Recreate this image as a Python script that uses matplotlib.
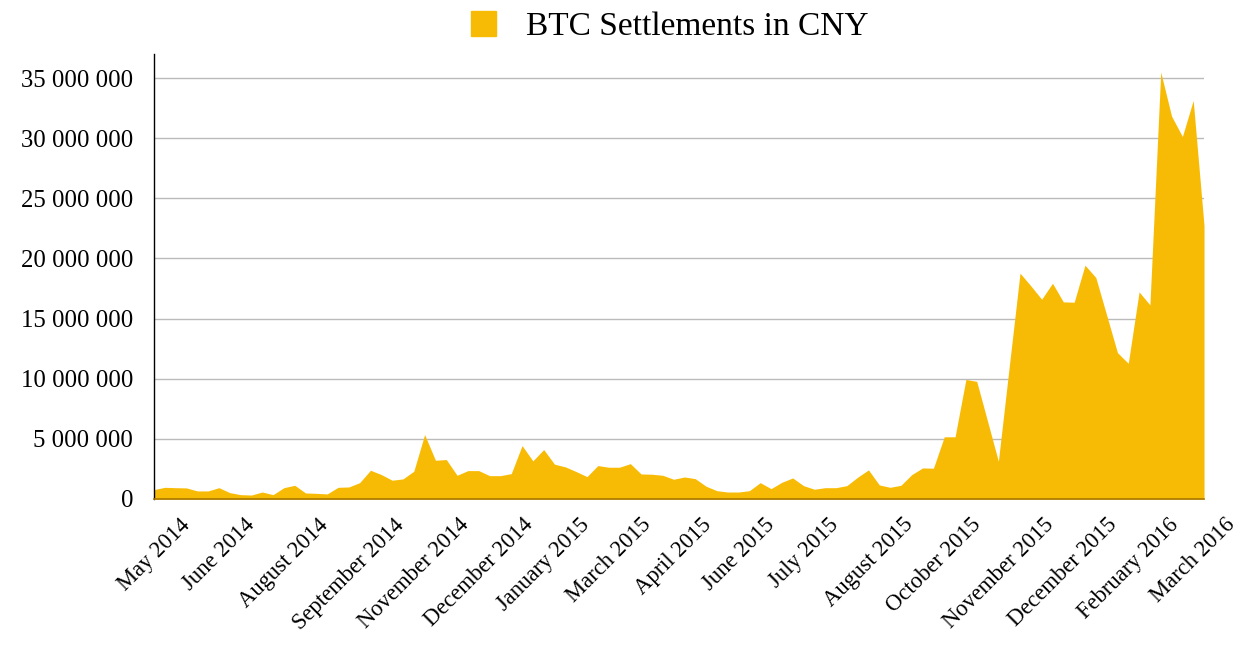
import matplotlib
matplotlib.use('Agg')
import matplotlib.pyplot as plt
from matplotlib.patches import Patch
from matplotlib.ticker import FuncFormatter

plt.rcParams['font.family'] = ['Liberation Serif', 'DejaVu Serif']

# weekly settlements, millions of CNY
settlements_m = [
    0.78, 0.97, 0.94, 0.92, 0.67, 0.67, 0.94, 0.53, 0.36, 0.33,
    0.58, 0.36, 0.94, 1.14, 0.50, 0.47, 0.42, 0.97, 1.00, 1.36,
    2.39, 2.03, 1.56, 1.67, 2.31, 5.36, 3.22, 3.28,
    1.97, 2.36, 2.36, 1.94, 1.94, 2.11, 4.44, 3.17, 4.11, 2.89,
    2.67, 2.28, 1.86, 2.78, 2.64, 2.64, 2.94, 2.08, 2.06, 1.97,
    1.64, 1.83, 1.69, 1.06, 0.69, 0.58, 0.58,
    0.69, 1.36, 0.86, 1.39, 1.75, 1.11, 0.81, 0.94, 0.94, 1.11,
    1.81, 2.42, 1.17, 0.97, 1.14, 2.03, 2.58, 2.56, 5.17, 5.17,
    9.94, 9.78,
    6.47, 3.14, 10.97, 18.78, 17.72, 16.61, 17.94, 16.39, 16.36, 19.44,
    18.42, 15.30, 12.17, 11.28, 17.22, 16.14, 35.50, 31.83, 30.14, 33.14,
    22.72,
]
month_labels = [
    'May 2014', 'June 2014', 'August 2014', 'September 2014', 'November 2014',
    'December 2014', 'January 2015', 'March 2015', 'April 2015', 'June 2015',
    'July 2015', 'August 2015', 'October 2015', 'November 2015',
    'December 2015', 'February 2016', 'March 2016',
]
label_every = 6  # a label every 6 weeks
series_name = 'BTC Settlements in CNY'

values = [v * 1e6 for v in settlements_m]
x = list(range(len(values)))

fill_color = '#f8bb05'

fig = plt.figure(figsize=(12.55, 6.51), dpi=100)
ax = fig.add_axes([0.1227, 0.2335, 0.8367, 0.6836])

ax.fill_between(x, 0, values, color=fill_color, lw=0, zorder=2)

ax.set_xlim(0, len(values) - 1)
ax.set_ylim(0, 37.0e6)
ax.set_yticks([i * 5e6 for i in range(8)])
ax.yaxis.set_major_formatter(FuncFormatter(lambda v, p: f'{int(v):,}'.replace(',', ' ')))
ax.set_xticks(x[::label_every])
ax.set_xticklabels(month_labels, rotation=45, ha='center', va='top')

ax.grid(axis='y', color='#bbbbbb', lw=1, zorder=1)
ax.set_axisbelow(True)
ax.tick_params(axis='y', length=0, pad=15, labelsize=17.8)
ax.tick_params(axis='x', length=0, pad=11, labelsize=16.3)

for s in ['top', 'right']:
    ax.spines[s].set_visible(False)
ax.spines['left'].set_color('black')
ax.spines['left'].set_linewidth(1)
ax.spines['bottom'].set_color('#a87800')
ax.spines['bottom'].set_linewidth(1.2)

fig.legend(handles=[Patch(color=fill_color, label=series_name)],
           loc='upper center', bbox_to_anchor=(0.534, 1.029), frameon=False,
           fontsize=24, handlelength=0.75, handleheight=0.75, handletextpad=0.9)

fig.savefig('out.png', dpi=100)
